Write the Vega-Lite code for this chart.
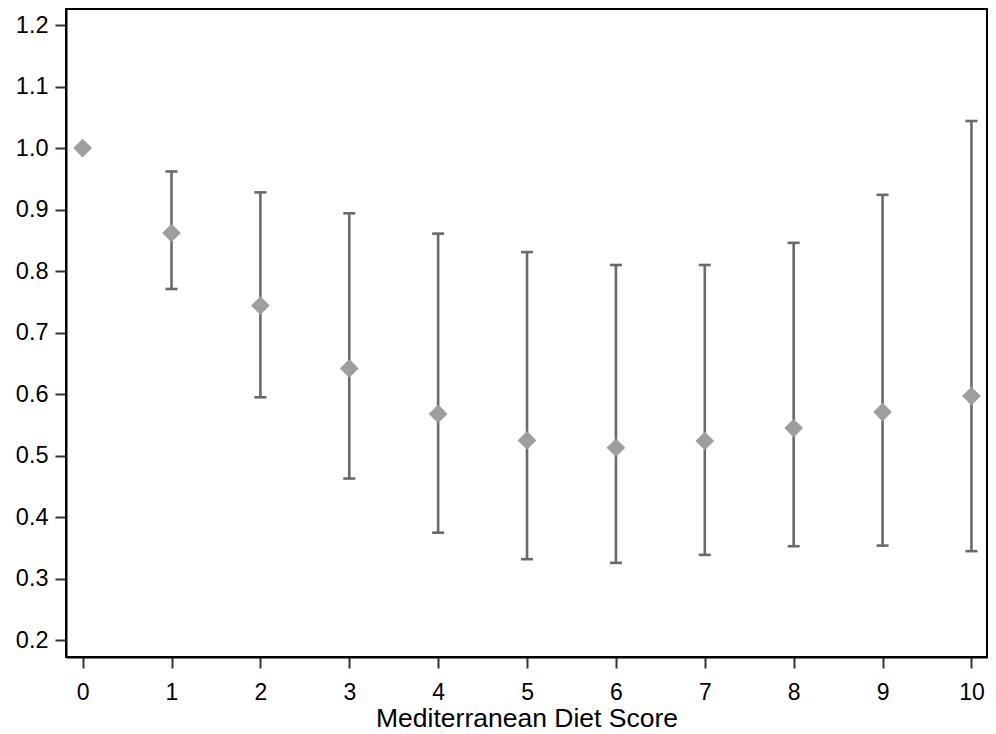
{
  "$schema": "https://vega.github.io/schema/vega-lite/v6.json",
  "autosize": {"type": "none"},
  "padding": {"left": 66, "top": 9, "right": 9, "bottom": 77},
  "width": 921,
  "height": 648,
  "background": "white",
  "config": {
    "view": {"stroke": "#000000", "strokeWidth": 2},
    "font": "Liberation Sans",
    "axis": {
      "domainColor": "#000000",
      "domainWidth": 2,
      "tickColor": "#333333",
      "tickWidth": 2,
      "tickSize": 11,
      "grid": false,
      "labelFont": "Liberation Sans",
      "labelColor": "#000000",
      "titleFont": "Liberation Sans",
      "titleFontWeight": "normal",
      "titleColor": "#000000"
    }
  },
  "data": {
    "values": [
      {"score": 0, "est": 1.0, "lo": null, "hi": null},
      {"score": 1, "est": 0.862, "lo": 0.771, "hi": 0.962},
      {"score": 2, "est": 0.744, "lo": 0.595, "hi": 0.928},
      {"score": 3, "est": 0.642, "lo": 0.463, "hi": 0.894},
      {"score": 4, "est": 0.568, "lo": 0.375, "hi": 0.861},
      {"score": 5, "est": 0.525, "lo": 0.332, "hi": 0.831},
      {"score": 6, "est": 0.513, "lo": 0.326, "hi": 0.810},
      {"score": 7, "est": 0.524, "lo": 0.339, "hi": 0.810},
      {"score": 8, "est": 0.545, "lo": 0.353, "hi": 0.846},
      {"score": 9, "est": 0.571, "lo": 0.354, "hi": 0.924},
      {"score": 10, "est": 0.597, "lo": 0.345, "hi": 1.044}
    ]
  },
  "encoding": {
    "x": {
      "field": "score", "type": "quantitative",
      "scale": {"domain": [-0.187, 10.175], "nice": false, "zero": false},
      "axis": {
        "values": [0, 1, 2, 3, 4, 5, 6, 7, 8, 9, 10],
        "title": "Mediterranean Diet Score",
        "titleFontSize": 26.5,
        "labelFontSize": 23,
        "labelPadding": 13,
        "titlePadding": 1,
        "labelFlush": false
      }
    }
  },
  "layer": [
    {
      "mark": {"type": "rule", "color": "#6a6a6a", "strokeWidth": 2.6},
      "encoding": {
        "y": {"field": "lo", "type": "quantitative",
          "scale": {"domain": [0.173, 1.226], "nice": false, "zero": false},
          "axis": {
            "values": [0.2, 0.3, 0.4, 0.5, 0.6, 0.7, 0.8, 0.9, 1.0, 1.1, 1.2],
            "format": ".1f",
            "title": null,
            "labelFontSize": 23.5,
            "labelPadding": 7,
            "labelFlush": false
          }
        },
        "y2": {"field": "hi"}
      }
    },
    {
      "mark": {"type": "tick", "orient": "horizontal", "color": "#6a6a6a", "size": 12, "thickness": 2.6, "opacity": 1},
      "encoding": {"y": {"field": "lo", "type": "quantitative"}}
    },
    {
      "mark": {"type": "tick", "orient": "horizontal", "color": "#6a6a6a", "size": 12, "thickness": 2.6, "opacity": 1},
      "encoding": {"y": {"field": "hi", "type": "quantitative"}}
    },
    {
      "mark": {"type": "point", "shape": "diamond", "filled": true, "color": "#9e9e9e", "opacity": 1, "size": 350},
      "encoding": {"y": {"field": "est", "type": "quantitative"}}
    }
  ]
}
